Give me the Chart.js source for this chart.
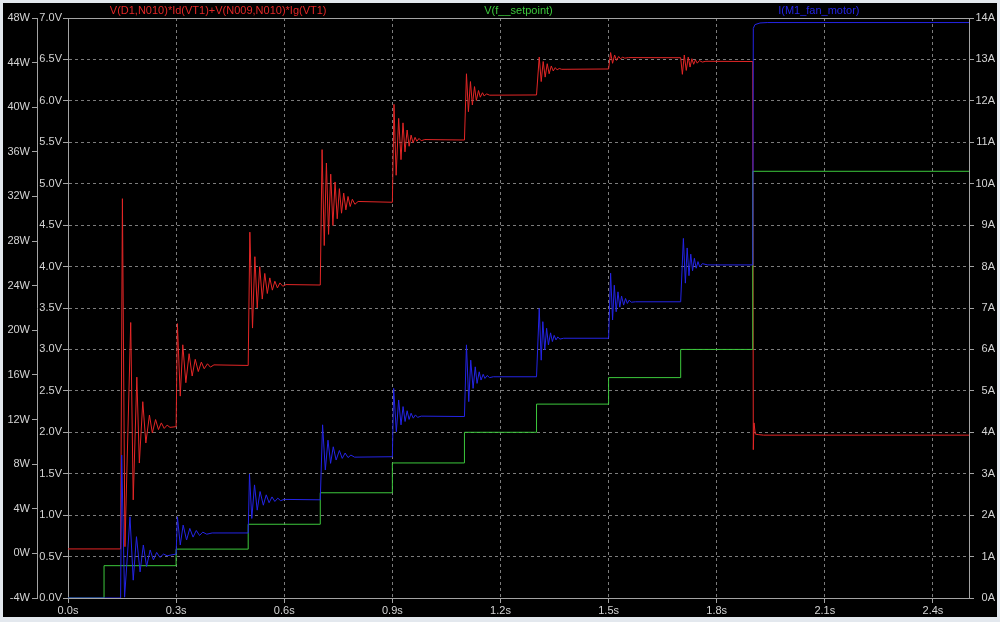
<!DOCTYPE html>
<html><head><meta charset="utf-8">
<script src="https://cdn.jsdelivr.net/npm/chart.js@4.4.1/dist/chart.umd.min.js"></script>
<style>
html,body{margin:0;padding:0;background:#e3e8ee;}
#wrap{position:relative;width:1000px;height:622px;background:#e3e8ee;overflow:hidden;}
#c{position:absolute;left:3px;top:3px;background:#000;}
</style></head><body>
<div id="wrap"><canvas id="c" width="994" height="614"></canvas></div>
<script>
// ---- tick labels ----
const timeTicks = [0, 0.3, 0.6, 0.9, 1.2, 1.5, 1.8, 2.1, 2.4];
const voltTicks = [0, 0.5, 1.0, 1.5, 2.0, 2.5, 3.0, 3.5, 4.0, 4.5, 5.0, 5.5, 6.0, 6.5, 7.0];
const wattTicks = [-4, 0, 4, 8, 12, 16, 20, 24, 28, 32, 36, 40, 44, 48];
const ampTicks  = [0, 1, 2, 3, 4, 5, 6, 7, 8, 9, 10, 11, 12, 13, 14];

// ---- series names ----
const seriesNames = ['V(D1,N010)*Id(VT1)+V(N009,N010)*Ig(VT1)', 'V(f__setpoint)', 'I(M1_fan_motor)'];

// ---- red trace: power (W) ----
const powerT = [0, 0.146, 0.151, 0.158, 0.174, 0.181, 0.191, 0.198, 0.2075, 0.216, 0.226, 0.234, 0.243, 0.251, 0.259, 0.267, 0.275, 0.283, 0.3,
 0.3035, 0.3115, 0.3185, 0.327, 0.336, 0.3445, 0.353, 0.3615, 0.37, 0.378, 0.387, 0.395, 0.405, 0.5,
 0.5046, 0.512, 0.5185, 0.525, 0.532, 0.539, 0.546, 0.553, 0.56, 0.567, 0.574, 0.581, 0.588, 0.596, 0.605, 0.7,
 0.705, 0.711, 0.717, 0.723, 0.729, 0.735, 0.741, 0.747, 0.753, 0.759, 0.765, 0.771, 0.777, 0.783, 0.789, 0.796, 0.805, 0.9,
 0.9045, 0.9105, 0.9175, 0.924, 0.9295, 0.935, 0.941, 0.9465, 0.952, 0.9575, 0.963, 0.968, 0.974, 0.98, 0.99, 1.1,
 1.1056, 1.111, 1.1167, 1.122, 1.128, 1.133, 1.139, 1.144, 1.15, 1.155, 1.161, 1.17, 1.3,
 1.3075, 1.313, 1.3185, 1.324, 1.3297, 1.335, 1.341, 1.3465, 1.352, 1.357, 1.363, 1.37, 1.5,
 1.5056, 1.511, 1.5167, 1.522, 1.528, 1.533, 1.539, 1.545, 1.555, 1.7,
 1.7047, 1.71, 1.7155, 1.721, 1.726, 1.731, 1.736, 1.741, 1.746, 1.752, 1.76, 1.77, 1.9,
 1.9015, 1.9035, 1.907, 1.915, 1.93, 2.5];
const powerW = [0.4, 0.4, 31.8, 0.6, 20.7, 4.8, 15.8, 8.1, 13.6, 9.9, 12.4, 10.8, 12.0, 11.1, 11.7, 11.2, 11.5, 11.3, 11.36,
 20.6, 14.1, 18.7, 15.3, 17.9, 15.9, 17.4, 16.3, 17.15, 16.55, 17.0, 16.7, 16.9, 16.85,
 28.8, 20.2, 26.6, 22.0, 25.7, 22.8, 25.1, 23.3, 24.7, 23.6, 24.4, 23.8, 24.25, 23.95, 24.1, 24.06,
 36.2, 27.6, 35.0, 28.6, 34.0, 29.4, 33.3, 30.0, 32.7, 30.5, 32.3, 30.8, 32.0, 31.1, 31.75, 31.3, 31.55, 31.48,
 40.26, 33.9, 39.0, 35.3, 38.6, 36.0, 37.96, 36.5, 37.5, 36.8, 37.3, 36.95, 37.2, 37.0, 37.1, 37.06,
 43.0, 39.6, 42.3, 40.2, 41.85, 40.6, 41.5, 40.9, 41.3, 41.0, 41.2, 41.08, 41.1,
 44.5, 42.3, 44.1, 42.7, 43.9, 43.0, 43.7, 43.25, 43.55, 43.35, 43.47, 43.4, 43.43,
 44.9, 43.94, 44.68, 44.2, 44.55, 44.35, 44.48, 44.4, 44.45, 44.44,
 42.95, 44.68, 43.3, 44.5, 43.6, 44.35, 43.85, 44.25, 43.95, 44.18, 44.05, 44.12, 44.1,
 9.3, 11.7, 10.7, 10.65, 10.6, 10.6];

// ---- green trace: setpoint (V) ----
const setpointT = [0, 0.1, 0.1, 0.3, 0.3, 0.5, 0.5, 0.7, 0.7, 0.9, 0.9, 1.1, 1.1, 1.3, 1.3, 1.5, 1.5, 1.7, 1.7, 1.9, 1.9, 2.5];
const setpointV = [0, 0, 0.39, 0.39, 0.59, 0.59, 0.89, 0.89, 1.27, 1.27, 1.63, 1.63, 2.0, 2.0, 2.34, 2.34, 2.66, 2.66, 3.0, 3.0, 5.15, 5.15];

// ---- blue trace: motor current (A) ----
const currentT = [0, 0.146, 0.149, 0.157, 0.172, 0.181, 0.19, 0.2, 0.209, 0.218, 0.228, 0.237, 0.246, 0.255, 0.265, 0.275, 0.3,
 0.3036, 0.3115, 0.3195, 0.329, 0.338, 0.347, 0.356, 0.365, 0.374, 0.385, 0.4, 0.5,
 0.5036, 0.51, 0.5175, 0.525, 0.533, 0.542, 0.55, 0.558, 0.566, 0.574, 0.582, 0.59, 0.6, 0.7,
 0.7064, 0.714, 0.7214, 0.7286, 0.736, 0.744, 0.753, 0.761, 0.769, 0.777, 0.785, 0.795, 0.9,
 0.9036, 0.911, 0.9175, 0.924, 0.9297, 0.9353, 0.941, 0.9464, 0.952, 0.958, 0.964, 0.97, 0.98, 1.1,
 1.1056, 1.112, 1.1175, 1.124, 1.13, 1.135, 1.141, 1.146, 1.152, 1.157, 1.163, 1.17, 1.18, 1.3,
 1.3075, 1.313, 1.3175, 1.323, 1.328, 1.333, 1.339, 1.344, 1.349, 1.354, 1.359, 1.365, 1.375, 1.5,
 1.5056, 1.511, 1.5158, 1.521, 1.526, 1.531, 1.536, 1.5417, 1.547, 1.552, 1.557, 1.563, 1.575, 1.7,
 1.7075, 1.713, 1.718, 1.723, 1.728, 1.733, 1.738, 1.743, 1.748, 1.753, 1.76, 1.775, 1.9,
 1.9015, 1.906, 1.92, 1.94, 2.5];
const currentA = [0, 0, 3.45, 0.02, 1.96, 0.43, 1.48, 0.63, 1.28, 0.76, 1.16, 0.92, 1.1, 0.98, 1.06, 1.02, 1.06,
 1.96, 1.28, 1.76, 1.4, 1.68, 1.47, 1.63, 1.51, 1.59, 1.54, 1.57, 1.57,
 2.99, 1.92, 2.73, 2.12, 2.57, 2.24, 2.49, 2.3, 2.44, 2.33, 2.41, 2.35, 2.38, 2.37,
 4.18, 3.09, 3.81, 3.25, 3.65, 3.33, 3.56, 3.37, 3.5, 3.39, 3.45, 3.4, 3.41,
 5.06, 4.01, 4.78, 4.18, 4.62, 4.26, 4.52, 4.31, 4.46, 4.34, 4.42, 4.36, 4.39, 4.38,
 6.11, 4.74, 5.74, 5.06, 5.58, 5.18, 5.46, 5.26, 5.40, 5.3, 5.37, 5.32, 5.34, 5.34,
 6.99, 5.74, 6.67, 5.99, 6.51, 6.11, 6.40, 6.19, 6.34, 6.23, 6.3, 6.25, 6.27, 6.27,
 7.84, 6.71, 7.55, 6.91, 7.39, 7.02, 7.29, 7.07, 7.23, 7.11, 7.19, 7.14, 7.15, 7.15,
 8.68, 7.60, 8.45, 7.78, 8.3, 7.9, 8.2, 7.96, 8.12, 7.99, 8.07, 8.04, 8.04,
 13.75, 13.84, 13.88, 13.89, 13.89];

// ---- styling ----
const FONT = {family: "'Liberation Sans', Arial, sans-serif", size: 11};
const TXT = '#d4d4d4';
const AXIS = '#a4a4a4';
const GRID = '#7c7c7c';
const RED = '#e42626', GREEN = '#3cc83c', BLUE = '#2424e6';

const pts = (t, v) => t.map((x, i) => ({x: x, y: v[i]}));
const fixTicks = arr => s => { s.ticks = arr.map(v => ({value: v})); };

const framePlugin = {
  id: 'frame',
  beforeDatasetsDraw(chart) {
    const {ctx, chartArea: a} = chart;
    ctx.save();
    ctx.strokeStyle = AXIS;
    ctx.lineWidth = 1;
    ctx.setLineDash([]);
    ctx.strokeRect(Math.round(a.left) + 0.5, Math.round(a.top) + 0.5,
                   Math.round(a.right - a.left), Math.round(a.bottom - a.top));
    ctx.restore();
  }
};
const titlePlugin = {
  id: 'traceTitles',
  afterDraw(chart) {
    const {ctx, chartArea: a} = chart;
    const cols = [RED, GREEN, BLUE];
    ctx.save();
    ctx.font = FONT.size + 'px ' + FONT.family;
    ctx.textAlign = 'center';
    ctx.textBaseline = 'middle';
    seriesNames.forEach((n, i) => {
      ctx.fillStyle = cols[i];
      ctx.fillText(n, a.left + (a.right - a.left) * (2 * i + 1) / 6, 7.5);
    });
    ctx.restore();
  }
};

new Chart(document.getElementById('c'), {
  type: 'line',
  data: {
    datasets: [
      {label: seriesNames[0], data: pts(powerT, powerW), xAxisID: 'x', yAxisID: 'w',
       borderColor: RED, borderWidth: 1, pointRadius: 0, tension: 0, fill: false, order: 3},
      {label: seriesNames[1], data: pts(setpointT, setpointV), xAxisID: 'x', yAxisID: 'v',
       borderColor: GREEN, borderWidth: 1, pointRadius: 0, tension: 0, fill: false, order: 2},
      {label: seriesNames[2], data: pts(currentT, currentA), xAxisID: 'x', yAxisID: 'a',
       borderColor: BLUE, borderWidth: 1, pointRadius: 0, tension: 0, fill: false, order: 1}
    ]
  },
  options: {
    responsive: false, animation: false, devicePixelRatio: 1, events: [],
    layout: {padding: {top: 15, left: 0, right: 2, bottom: 0}},
    plugins: {legend: {display: false}, tooltip: {enabled: false}},
    scales: {
      x: {type: 'linear', position: 'bottom', min: 0, max: 2.5,
          afterBuildTicks: fixTicks(timeTicks), afterFit: s => { s.height = 19; },
          ticks: {color: TXT, font: FONT, padding: 1, maxRotation: 0, autoSkip: false,
                  callback: v => v.toFixed(1) + 's'},
          grid: {color: GRID, lineWidth: 1, tickLength: 5, tickColor: AXIS, tickBorderDash: []},
          border: {display: true, color: AXIS, dash: [3, 3]}},
      w: {type: 'linear', position: 'left', weight: 1, min: -4, max: 48,
          afterBuildTicks: fixTicks(wattTicks), afterFit: s => { s.width = 34; },
          ticks: {color: TXT, font: FONT, padding: 2, callback: v => v + 'W'},
          grid: {drawOnChartArea: false, tickLength: 5, tickColor: AXIS},
          border: {display: true, color: AXIS}},
      v: {type: 'linear', position: 'left', weight: 0, min: 0, max: 7,
          afterBuildTicks: fixTicks(voltTicks), afterFit: s => { s.width = 31; },
          ticks: {color: TXT, font: FONT, padding: 1, callback: v => v.toFixed(1) + 'V'},
          grid: {color: GRID, lineWidth: 1, tickLength: 5, tickColor: AXIS, tickBorderDash: []},
          border: {display: true, color: AXIS, dash: [3, 3]}},
      a: {type: 'linear', position: 'right', min: 0, max: 14,
          afterBuildTicks: fixTicks(ampTicks), afterFit: s => { s.width = 26; },
          ticks: {color: TXT, font: FONT, padding: 2, crossAlign: 'far', callback: v => v + 'A'},
          grid: {drawOnChartArea: false, tickLength: 5, tickColor: AXIS},
          border: {display: true, color: AXIS}}
    }
  },
  plugins: [framePlugin, titlePlugin]
});
</script>
</body></html>
